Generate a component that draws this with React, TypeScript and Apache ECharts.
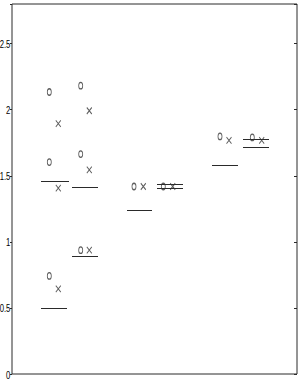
import React, { useEffect, useRef } from "react";
import * as echarts from "echarts";

// Horizontal reference segments (x start, x end, y value)
const segStart = [2.9, 2.9, 6.0, 6.0, 11.5, 14.5, 14.5, 20.0, 23.1, 23.1];
const segEnd = [5.5, 5.7, 8.6, 8.6, 14.0, 17.1, 17.1, 22.6, 25.7, 25.7];
const segValue = [0.5, 1.462, 1.414, 0.891, 1.237, 1.439, 1.402, 1.583, 1.773, 1.714];

// 'o' markers
const circleX = [3.73, 3.73, 3.73, 6.87, 6.87, 6.87, 12.2, 15.13, 20.8, 24.03];
const circleY = [2.134, 1.604, 0.742, 2.182, 1.664, 0.937, 1.419, 1.419, 1.798, 1.79];

// 'x' markers
const crossX = [4.63, 4.63, 4.63, 7.73, 7.73, 7.73, 13.13, 16.07, 21.7, 24.97];
const crossY = [1.894, 1.407, 0.644, 1.992, 1.545, 0.937, 1.419, 1.419, 1.768, 1.768];

const yTicks = [0, 0.5, 1, 1.5, 2, 2.5];

export default function App() {
  const ref = useRef<HTMLDivElement>(null);
  useEffect(() => {
    if (!ref.current) return;
    const chart = echarts.init(ref.current, null, { renderer: "svg" });
    const ink = "#2a2a2a";
    chart.setOption({
      animation: false,
      backgroundColor: "#ffffff",
      grid: {
        left: 12,
        right: 3,
        top: 4,
        bottom: 8,
        containLabel: false,
        outerBoundsMode: "none",
        show: true,
        borderColor: ink,
        borderWidth: 1,
      },
      xAxis: {
        type: "value",
        min: 0,
        max: 28.5,
        axisLine: { show: false },
        axisTick: { show: false },
        axisLabel: { show: false },
        splitLine: { show: false },
      },
      yAxis: [
        {
          type: "value",
          min: 0,
          max: 2.8,
          interval: 0.5,
          position: "left",
          axisLine: { show: false },
          axisTick: { show: true, inside: false, length: 2, lineStyle: { color: ink } },
          axisLabel: { show: false },
          splitLine: { show: false },
        },
        {
          type: "value",
          min: 0,
          max: 2.8,
          interval: 0.5,
          position: "right",
          axisLine: { show: false },
          axisTick: { show: true, inside: true, length: 3, lineStyle: { color: ink } },
          axisLabel: { show: false },
          splitLine: { show: false },
        },
      ],
      series: [
        {
          type: "lines",
          coordinateSystem: "cartesian2d",
          silent: true,
          lineStyle: { color: ink, width: 1, opacity: 1 },
          data: segValue.map((v, i) => ({
            coords: [
              [segStart[i], v],
              [segEnd[i], v],
            ],
          })),
        },
        {
          type: "scatter",
          symbol: "path://M5,0A5,8 0 1,1 5,16A5,8 0 1,1 5,0Z",
          symbolSize: [4, 6.5],
          itemStyle: { color: "none", borderColor: "#333", borderWidth: 1 },
          data: circleX.map((x, i) => [x, circleY[i]]),
        },
        {
          type: "scatter",
          symbol: "path://M0,0L10,12M10,0L0,12",
          symbolSize: [5, 6.5],
          itemStyle: { color: "none", borderColor: "#333", borderWidth: 1 },
          data: crossX.map((x, i) => [x, crossY[i]]),
        },
      ],
    });
    // Y tick labels, placed through the axis scale, drawn horizontally condensed
    const labels = yTicks.map((v) => {
      const py = chart.convertToPixel({ yAxisIndex: 0 }, v) as number;
      return {
        type: "text",
        x: 10.4,
        y: py + 0.5,
        scaleX: 0.7,
        silent: true,
        style: {
          text: String(v),
          align: "right",
          verticalAlign: "middle",
          fill: "#000",
          fontSize: 11,
          fontFamily: "'Liberation Sans', Arial, sans-serif",
        },
      };
    });
    chart.setOption({ graphic: labels });
    return () => chart.dispose();
  }, []);
  return (
    <div
      ref={ref}
      style={{ position: "fixed", left: 0, top: 0, width: 300, height: 382, background: "#fff" }}
    />
  );
}
